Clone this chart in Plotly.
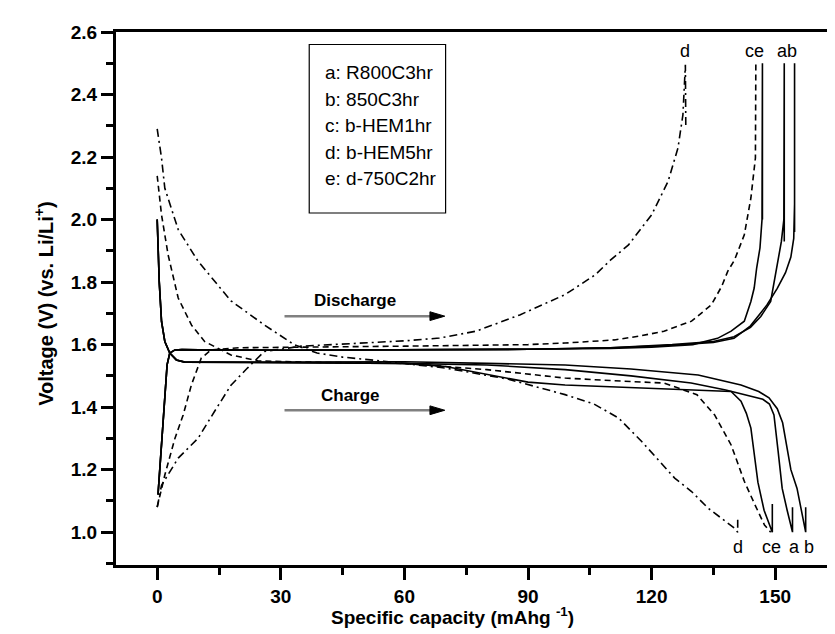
import plotly.graph_objects as go

# ---------------- data ----------------
# "Discharge" branch (rising from ~1.1 V to 2.5 V)
a_up_cap = [0.2, 0.6, 1.05, 1.5, 1.85, 2.4, 3.05, 4.3, 6, 10, 30, 60, 90, 110, 125, 135, 140, 144, 146.5, 148.9, 149.7, 150.6, 151.5, 152.1, 152.2, 152.2]
a_up_v = [1.12, 1.2, 1.27, 1.36, 1.43, 1.535, 1.573, 1.583, 1.584, 1.583, 1.582, 1.583, 1.585, 1.59, 1.60, 1.61, 1.625, 1.655, 1.69, 1.738, 1.80, 1.87, 1.93, 2.0, 2.5, 1.93]
b_up_cap = [0.2, 0.6, 1.05, 1.5, 1.85, 2.4, 3.05, 4.3, 6, 10, 30, 60, 90, 110, 125, 135, 140, 144, 148, 150.5, 152.5, 153.8, 154.5, 154.7, 154.7, 154.7]
b_up_v = [1.12, 1.2, 1.27, 1.36, 1.43, 1.535, 1.573, 1.583, 1.584, 1.583, 1.582, 1.583, 1.585, 1.59, 1.598, 1.607, 1.62, 1.66, 1.727, 1.78, 1.83, 1.88, 1.94, 2.05, 2.5, 1.96]
e_up_cap = [0.2, 0.6, 1.05, 1.5, 1.85, 2.4, 3.05, 4.3, 6, 10, 30, 60, 90, 110, 120, 130, 136, 139.3, 142.5, 144.1, 144.9, 145.5, 146.3, 146.8, 146.9, 146.9]
e_up_v = [1.12, 1.2, 1.27, 1.36, 1.43, 1.535, 1.573, 1.583, 1.584, 1.583, 1.582, 1.583, 1.585, 1.588, 1.592, 1.60, 1.62, 1.643, 1.675, 1.738, 1.781, 1.845, 1.909, 2.0, 2.5, 2.0]
c_up_cap = [0, 1.85, 4.3, 6.3, 8.3, 10.7, 13.1, 20, 60, 90, 99, 111, 117, 123, 129.7, 134.5, 137, 138.5, 140.1, 142.5, 144.1, 145.2, 145.3]
c_up_v = [1.08, 1.183, 1.30, 1.375, 1.471, 1.557, 1.583, 1.59, 1.595, 1.60, 1.605, 1.615, 1.627, 1.643, 1.675, 1.727, 1.786, 1.835, 1.87, 1.951, 2.069, 2.197, 2.5]
d_up_cap = [0, 1.05, 5.1, 9.9, 13.9, 17.9, 21.9, 26, 35, 50, 60, 68.5, 77.4, 88, 99, 106.3, 110, 114.4, 120, 124, 126.4, 127.6, 128.2, 128.3]
d_up_v = [1.08, 1.15, 1.237, 1.30, 1.386, 1.47, 1.525, 1.578, 1.595, 1.605, 1.612, 1.621, 1.643, 1.695, 1.76, 1.823, 1.87, 1.919, 2.015, 2.122, 2.229, 2.335, 2.495, 2.30]

# "Charge" branch (falling from ~2.0-2.3 V to 1.0 V)
a_lo_cap = [0, 0.1, 0.5, 1.05, 1.85, 3.05, 4.66, 6.7, 30, 60, 80, 99, 115, 129.6, 138, 144.1, 147, 148.6, 149.7, 150.7, 151.7, 152.9, 154.2, 154.2]
a_lo_v = [2.0, 1.94, 1.80, 1.674, 1.61, 1.573, 1.551, 1.544, 1.542, 1.54, 1.535, 1.52, 1.50, 1.477, 1.455, 1.435, 1.425, 1.41, 1.375, 1.26, 1.14, 1.07, 1.0, 1.08]
b_lo_cap = [0, 0.1, 0.5, 1.05, 1.85, 3.05, 4.66, 6.7, 60, 80, 99, 115, 131.3, 141.7, 146, 148.5, 150.5, 151.8, 152.8, 153.8, 155.3, 156.3, 157.4, 157.4]
b_lo_v = [2.0, 1.94, 1.80, 1.674, 1.61, 1.573, 1.551, 1.544, 1.545, 1.54, 1.535, 1.522, 1.503, 1.471, 1.45, 1.43, 1.395, 1.35, 1.28, 1.20, 1.14, 1.07, 1.0, 1.08]
e_lo_cap = [0, 0.1, 0.5, 1.05, 1.85, 3.05, 4.66, 6.7, 60, 70, 80, 90, 99, 120, 139.3, 141.7, 143, 144.1, 145, 145.8, 147.3, 149.3, 149.3]
e_lo_v = [2.0, 1.94, 1.80, 1.674, 1.61, 1.573, 1.551, 1.544, 1.54, 1.53, 1.505, 1.48, 1.471, 1.46, 1.45, 1.419, 1.38, 1.333, 1.25, 1.16, 1.07, 1.0, 1.09]
c_lo_cap = [0, 1.05, 2.65, 5.1, 8.3, 11.5, 17.9, 24.4, 40, 60, 80, 99, 110, 123, 131, 135.3, 139.3, 142.5, 145, 147.4, 148.9]
c_lo_v = [2.14, 2.015, 1.887, 1.749, 1.663, 1.61, 1.567, 1.548, 1.543, 1.54, 1.52, 1.493, 1.485, 1.477, 1.44, 1.375, 1.279, 1.163, 1.09, 1.023, 1.0]
d_lo_cap = [0, 1.05, 1.85, 5.1, 9.9, 17.9, 26, 33.2, 38.8, 45, 55, 70, 85, 99, 106, 112, 117.6, 125.6, 129.7, 133.7, 140.1, 140.9, 140.9]
d_lo_v = [2.29, 2.197, 2.10, 1.968, 1.867, 1.74, 1.663, 1.60, 1.573, 1.56, 1.547, 1.525, 1.49, 1.44, 1.41, 1.365, 1.29, 1.173, 1.13, 1.077, 1.013, 1.0, 1.04]

legend_lines = ["a: R800C3hr", "b: 850C3hr", "c: b-HEM1hr", "d: b-HEM5hr", "e: d-750C2hr"]

top_labels = ["d", "ce", "ab"]
top_label_cap = [128, 145, 152.8]
bottom_labels = ["d", "ce", "a", "b"]
bottom_label_cap = [141, 149, 154.6, 158.2]

x_ticks = [0, 30, 60, 90, 120, 150]
y_ticks = [1.0, 1.2, 1.4, 1.6, 1.8, 2.0, 2.2, 2.4, 2.6]

# ---------------- figure ----------------
FONT = "Arial, Liberation Sans, Helvetica, sans-serif"
fig = go.Figure()

series = [
    ("a", a_up_cap, a_up_v, a_lo_cap, a_lo_v, "solid"),
    ("b", b_up_cap, b_up_v, b_lo_cap, b_lo_v, "solid"),
    ("e", e_up_cap, e_up_v, e_lo_cap, e_lo_v, "solid"),
    ("c", c_up_cap, c_up_v, c_lo_cap, c_lo_v, "6px,4px"),
    ("d", d_up_cap, d_up_v, d_lo_cap, d_lo_v, "8px,4px,2px,4px"),
]
for name, ux, uy, lx, ly, dash in series:
    fig.add_trace(go.Scatter(x=ux + [None] + lx, y=uy + [None] + ly, mode="lines",
                             name=name, line=dict(color="black", width=1.6, dash=dash),
                             showlegend=False, connectgaps=False))

annotations = []
# legend box text
leg_y = [2.47, 2.385, 2.30, 2.215, 2.13]
for t, yv in zip(legend_lines, leg_y):
    annotations.append(dict(x=40.2, y=yv, xref="x", yref="y", text=t, showarrow=False,
                            xanchor="left", yanchor="middle",
                            font=dict(family=FONT, size=19, color="black")))
for t, xv in zip(top_labels, top_label_cap):
    annotations.append(dict(x=xv, y=2.5, xref="x", yref="y", text=t, showarrow=False,
                            xanchor="center", yanchor="bottom",
                            font=dict(family=FONT, size=18, color="black")))
for t, xv in zip(bottom_labels, bottom_label_cap):
    annotations.append(dict(x=xv, y=0.99, xref="x", yref="y", text=t, showarrow=False,
                            xanchor="center", yanchor="top",
                            font=dict(family=FONT, size=18, color="black")))
# Discharge / Charge labels
annotations.append(dict(x=48, y=1.742, xref="x", yref="y", text="<b>Discharge</b>", showarrow=False,
                        font=dict(family=FONT, size=17, color="black")))
annotations.append(dict(x=47, y=1.438, xref="x", yref="y", text="<b>Charge</b>", showarrow=False,
                        font=dict(family=FONT, size=17, color="black")))
# axis titles
annotations.append(dict(x=0.467, y=0, xref="paper", yref="paper", yshift=-51,
                        text="<b>Specific capacity (mAhg <sup>-1</sup>)</b>", showarrow=False,
                        xanchor="center", yanchor="middle",
                        font=dict(family=FONT, size=19, color="black")))
annotations.append(dict(x=0, y=0.49, xref="paper", yref="paper", xshift=-72, textangle=-90,
                        text="<b>Voltage (V) (vs. Li/Li<sup>+</sup>)</b>", showarrow=False,
                        xanchor="center", yanchor="middle",
                        font=dict(family=FONT, size=20, color="black")))

arrow_y = [1.691, 1.390]
shapes = [
    dict(type="rect", xref="x", yref="y", x0=36.9, x1=70.0, y0=2.021, y1=2.56,
         line=dict(color="black", width=1.2), fillcolor="rgba(0,0,0,0)"),
]
for yv in arrow_y:
    shapes.append(dict(type="line", xref="x", yref="y", x0=30.9, x1=66.5, y0=yv, y1=yv,
                       line=dict(color="#808080", width=2.5)))
    shapes.append(dict(type="path", xref="x", yref="y",
                       path=f"M 66.2 {yv - 0.014} L 69.8 {yv} L 66.2 {yv + 0.014} Z",
                       fillcolor="black", line=dict(color="black", width=1)))

axis_common = dict(showline=True, linewidth=3, linecolor="black", mirror=True,
                   ticks="outside", ticklen=12, tickwidth=3, tickcolor="black",
                   showgrid=False, zeroline=False,
                   tickfont=dict(family=FONT, size=19, color="black"))

fig.update_layout(
    width=835, height=634,
    margin=dict(l=108, r=3, t=24, b=77),
    paper_bgcolor="white", plot_bgcolor="white",
    xaxis=dict(range=[-10, 165], tickvals=x_ticks, ticktext=[f"<b>{v}</b>" for v in x_ticks],
               minor=dict(dtick=15, tick0=0, ticks="outside", ticklen=7, tickwidth=3, tickcolor="black"),
               **axis_common),
    yaxis=dict(range=[0.895, 2.6], tickvals=y_ticks, ticktext=[f"<b>{v:.1f}</b>" for v in y_ticks],
               minor=dict(dtick=0.1, tick0=0, ticks="outside", ticklen=7, tickwidth=3, tickcolor="black"),
               **axis_common),
    annotations=annotations,
    shapes=shapes,
    showlegend=False,
)

fig.write_html("out.html")
